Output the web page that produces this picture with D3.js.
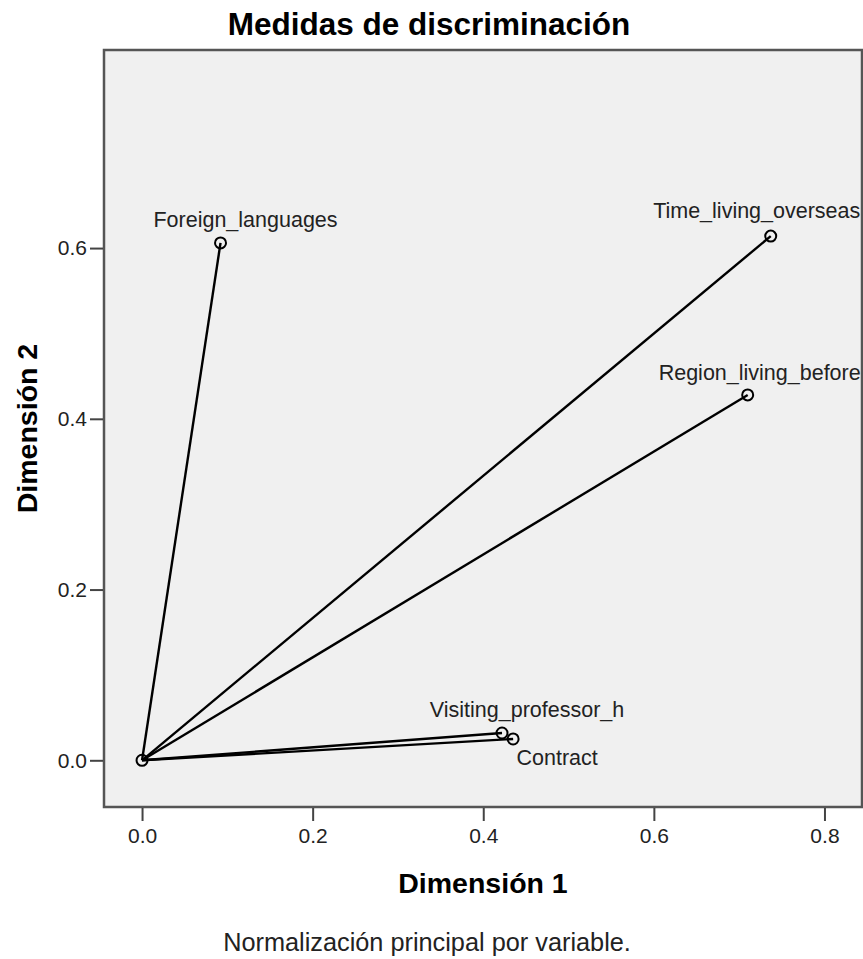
<!DOCTYPE html>
<meta charset="utf-8">
<title>Medidas de discriminación</title>
<style>

body {
  margin: 0;
  background: #fff;
}

svg {
  font-family: "Liberation Sans", Arial, sans-serif;
}

.axis path {
  display: none;
}

.axis line {
  stroke: #444;
  stroke-width: 2px;
}

.axis text {
  font-size: 21px;
  fill: #222;
}

.frame {
  fill: #f0f0f0;
  stroke: #555;
  stroke-width: 2.5px;
}

.vector {
  stroke: #000;
  stroke-width: 2.4px;
  fill: none;
}

.point {
  fill: none;
  stroke: #000;
  stroke-width: 2px;
}

.label {
  font-size: 21.5px;
  fill: #222;
}

</style>
<body>
<script src="https://d3js.org/d3.v7.min.js"></script>
<script>

// discrimination measures per variable
var variables = ["Foreign_languages", "Time_living_overseas", "Region_living_before", "Visiting_professor_h", "Contract"];
var dim1 = [0.092, 0.737, 0.710, 0.422, 0.435];
var dim2 = [0.606, 0.614, 0.428, 0.032, 0.025];

var xTicks = [0.0, 0.2, 0.4, 0.6, 0.8];
var yTicks = [0.0, 0.2, 0.4, 0.6];

// where each label sits relative to its point
var labelDx = [25, -14, 12, 25, 44];
var labelDy = [-16, -18, -15, -16, 26];

var margin = {top: 50, right: 1, bottom: 152, left: 104},
    width = 863 - margin.left - margin.right,
    height = 959 - margin.top - margin.bottom;

var x = d3.scaleLinear()
    .domain([-0.0446, 0.844])
    .range([0, width]);

var y = d3.scaleLinear()
    .domain([-0.0547, 0.832])
    .range([height, 0]);

var xAxis = d3.axisBottom(x)
    .tickValues(xTicks)
    .tickFormat(d3.format(".1f"))
    .tickSize(13)
    .tickPadding(7);

var yAxis = d3.axisLeft(y)
    .tickValues(yTicks)
    .tickFormat(d3.format(".1f"))
    .tickSize(13)
    .tickPadding(3);

var root = d3.select("body").append("svg")
    .attr("width", 863)
    .attr("height", 959);

root.append("text")
    .attr("x", 429)
    .attr("y", 35)
    .attr("text-anchor", "middle")
    .style("font-size", "31.5px")
    .style("font-weight", "bold")
    .text("Medidas de discriminación");

var svg = root.append("g")
    .attr("transform", "translate(" + margin.left + "," + margin.top + ")");

svg.append("rect")
    .attr("class", "frame")
    .attr("width", width)
    .attr("height", height);

svg.append("g")
    .attr("class", "x axis")
    .attr("transform", "translate(0," + (height + 1) + ")")
    .call(xAxis);

svg.append("g")
    .attr("class", "y axis")
    .attr("transform", "translate(-1,0)")
    .call(yAxis);

var data = variables.map(function(v, i) {
  return {name: v, d1: dim1[i], d2: dim2[i], dx: labelDx[i], dy: labelDy[i]};
});

svg.selectAll(".vector")
    .data(data)
  .enter().append("line")
    .attr("class", "vector")
    .attr("x1", x(0))
    .attr("y1", y(0))
    .attr("x2", function(d) { return x(d.d1); })
    .attr("y2", function(d) { return y(d.d2); });

svg.append("circle")
    .attr("class", "point")
    .attr("cx", x(0))
    .attr("cy", y(0))
    .attr("r", 5.5);

svg.selectAll(".point.end")
    .data(data)
  .enter().append("circle")
    .attr("class", "point end")
    .attr("cx", function(d) { return x(d.d1); })
    .attr("cy", function(d) { return y(d.d2); })
    .attr("r", 5.5);

svg.selectAll(".label")
    .data(data)
  .enter().append("text")
    .attr("class", "label")
    .attr("x", function(d) { return x(d.d1) + d.dx; })
    .attr("y", function(d) { return y(d.d2) + d.dy; })
    .attr("text-anchor", "middle")
    .text(function(d) { return d.name; });

svg.append("text")
    .attr("x", width / 2)
    .attr("y", height + 86)
    .attr("text-anchor", "middle")
    .style("font-size", "28.5px")
    .style("font-weight", "bold")
    .text("Dimensión 1");

svg.append("text")
    .attr("transform", "rotate(-90)")
    .attr("x", -height / 2)
    .attr("y", -67)
    .attr("text-anchor", "middle")
    .style("font-size", "28.5px")
    .style("font-weight", "bold")
    .text("Dimensión 2");

root.append("text")
    .attr("x", 427)
    .attr("y", 951)
    .attr("text-anchor", "middle")
    .style("font-size", "25.3px")
    .style("fill", "#222")
    .text("Normalización principal por variable.");

</script>
</body>
